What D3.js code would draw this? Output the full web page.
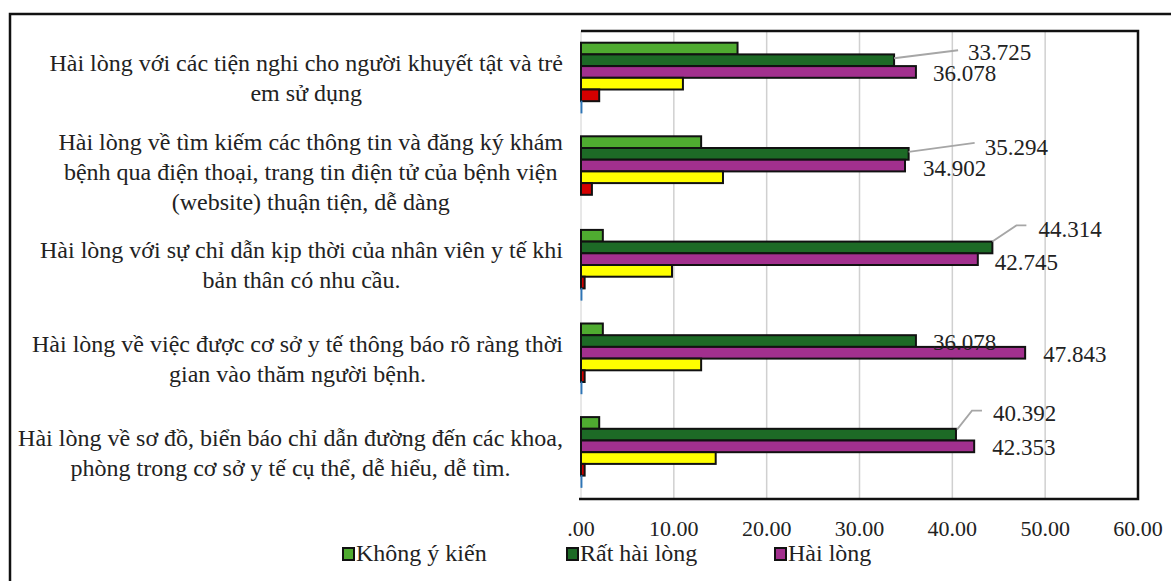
<!DOCTYPE html>
<html>
<head>
<meta charset="utf-8">
<script src="https://cdn.jsdelivr.net/npm/d3@7"></script>
<style>
  html, body { margin: 0; padding: 0; background: #fff; }
  svg { display: block; }
</style>
</head>
<body>
<svg id="chart" width="1171" height="581"></svg>
<script>
// ---------- DATA ----------
const categories = [
  "Hài lòng với các tiện nghi cho người khuyết tật và trẻ\nem sử dụng",
  "Hài lòng về tìm kiếm các thông tin và đăng ký khám\nbệnh qua điện thoại, trang tin điện tử của bệnh viện\n(website) thuận tiện, dễ dàng",
  "Hài lòng với sự chỉ dẫn kịp thời của nhân viên y tế khi\nbản thân có nhu cầu.",
  "Hài lòng về việc được cơ sở y tế thông báo rõ ràng thời\ngian vào thăm người bệnh.",
  "Hài lòng về sơ đồ, biển báo chỉ dẫn đường đến các khoa,\nphòng trong cơ sở y tế cụ thể, dễ hiểu, dễ tìm."
];
const seriesNames = ["Không ý kiến", "Rất hài lòng", "Hài lòng", "Không hài lòng", "Rất không hài lòng", "Khác"];
const khongYKien   = [16.863, 12.941, 2.353, 2.353, 1.961];
const ratHaiLong   = [33.725, 35.294, 44.314, 36.078, 40.392];
const haiLong      = [36.078, 34.902, 42.745, 47.843, 42.353];
const khongHaiLong = [10.980, 15.294, 9.804, 12.941, 14.510];
const ratKhongHL   = [1.961, 1.176, 0.392, 0.392, 0.392];
const khac         = [0.1, 0.0, 0.1, 0.1, 0.1];
const seriesValues = [khongYKien, ratHaiLong, haiLong, khongHaiLong, ratKhongHL, khac];
const labelledSeries = [1, 2];       // series that carry data labels
const legendSeries = [0, 1, 2];      // series shown in the legend
const xTicks = [0, 10, 20, 30, 40, 50, 60];

// ---------- STYLE / LAYOUT ----------
const FONT = "'Liberation Serif', Tinos, 'Times New Roman', 'DejaVu Serif', 'Noto Serif', serif";
const colors = ["#4fab30", "#1d6a26", "#a2308e", "#ffff00", "#d40000", "#2e75b6"];
const plot = { left: 581, right: 1138, top: 31, bottom: 499 };
const labelPos = {
  1: [ {dx: 74, dy: -8, leader: [[0,-2],[64,-10]]},
       {dx: 76, dy: -7, leader: [[0,-2],[66,-11]]},
       {dx: 46, dy: -19, leader: [[0,-6],[24,-22],[34,-22]]},
       {dx: 17, dy: 1},
       {dx: 37, dy: -22, leader: [[1,-5],[16,-24],[26,-24]]} ],
  2: [ {dx: 17, dy: 1}, {dx: 18, dy: 2}, {dx: 17, dy: 3}, {dx: 18, dy: 1}, {dx: 18, dy: 1} ]
};

const svg = d3.select("#chart");

// outer chart border (top & left visible)
svg.append("path")
  .attr("d", "M10,581 V14 H1171")
  .attr("fill", "none").attr("stroke", "#111").attr("stroke-width", 2.5);

const x = d3.scaleLinear().domain([0, 60]).range([plot.left, plot.right]);
const y = d3.scaleBand().domain(d3.range(categories.length))
  .range([plot.top, plot.bottom]).paddingInner(0.25).paddingOuter(0.125);
const ys = d3.scaleBand().domain(d3.range(seriesValues.length)).range([0, y.bandwidth()]);

// gridlines
svg.append("g").selectAll("line").data(xTicks.filter(t => t > 0 && t < 60)).join("line")
  .attr("x1", d => x(d)).attr("x2", d => x(d))
  .attr("y1", plot.top).attr("y2", plot.bottom)
  .attr("stroke", "#d0d0d0").attr("stroke-width", 1.5);

// left axis line (light)
svg.append("line").attr("x1", x(0)).attr("x2", x(0)).attr("y1", plot.top).attr("y2", plot.bottom)
  .attr("stroke", "#d0d0d0").attr("stroke-width", 1);

// plot border top/right/bottom
svg.append("path")
  .attr("d", `M${plot.left},${plot.top} H${plot.right} V${plot.bottom} H${plot.left - 2}`)
  .attr("fill", "none").attr("stroke", "#111").attr("stroke-width", 2.5);

// bars
const barData = [];
seriesValues.forEach((vals, s) => vals.forEach((v, c) => barData.push({ s, c, v })));
svg.append("g").selectAll("rect").data(barData.filter(d => d.v > 0)).join("rect")
  .attr("x", x(0))
  .attr("y", d => y(d.c) + ys(d.s))
  .attr("width", d => x(d.v) - x(0))
  .attr("height", ys.bandwidth())
  .attr("fill", d => colors[d.s])
  .attr("stroke", d => d.s === 5 ? colors[5] : "#111")
  .attr("stroke-width", d => d.s === 5 ? 1 : 2);

// leader lines and data labels
const fmt = d3.format(".3f");
labelledSeries.forEach(s => {
  seriesValues[s].forEach((v, c) => {
    const bx = x(v), by = y(c) + ys(s) + ys.bandwidth() / 2;
    const p = labelPos[s][c];
    if (p.leader) {
      svg.append("path")
        .attr("d", d3.line()(p.leader.map(([a, b]) => [bx + a, by + b])))
        .attr("fill", "none").attr("stroke", "#a6a6a6").attr("stroke-width", 1.8);
    }
    svg.append("text")
      .attr("x", bx + p.dx).attr("y", by + p.dy)
      .attr("dy", "0.35em")
      .attr("font-family", FONT).attr("fill", "#222")
      .attr("font-size", 23)
      .text(fmt(v));
  });
});

// x axis tick labels
const tickFmt = d => d === 0 ? ".00" : d3.format(".2f")(d);
svg.append("g").selectAll("text").data(xTicks).join("text")
  .attr("x", d => x(d)).attr("y", 536)
  .attr("text-anchor", "middle")
  .attr("font-family", FONT).attr("fill", "#222")
  .attr("font-size", 22)
  .text(tickFmt);

// category labels (centred lines, right edge of block aligned)
const catRight = 563, lineH = 30;
categories.forEach((cat, c) => {
  const lines = cat.split("\n");
  const g = svg.append("g");
  const cy = y(c) + y.bandwidth() / 2;
  const t = g.selectAll("text").data(lines).join("text")
    .attr("x", 0)
    .attr("y", (d, i) => cy + (i - (lines.length - 1) / 2) * lineH)
    .attr("dy", "0.35em")
    .attr("text-anchor", "middle")
    .attr("font-family", FONT).attr("fill", "#222")
    .attr("font-size", 24)
    .text(d => d);
  const w = d3.max(t.nodes(), n => n.getComputedTextLength());
  g.attr("transform", `translate(${catRight - w / 2},0)`);
});

// legend
const legendX = [343, 567, 775];
legendSeries.forEach((s, i) => {
  const g = svg.append("g").attr("transform", `translate(${legendX[i]},548)`);
  g.append("rect").attr("width", 11).attr("height", 12)
    .attr("fill", colors[s]).attr("stroke", "#111").attr("stroke-width", 2);
  g.append("text").attr("x", 13).attr("y", 13)
    .attr("font-family", FONT).attr("fill", "#222")
    .attr("font-size", 24).text(seriesNames[s]);
});
</script>
</body>
</html>
